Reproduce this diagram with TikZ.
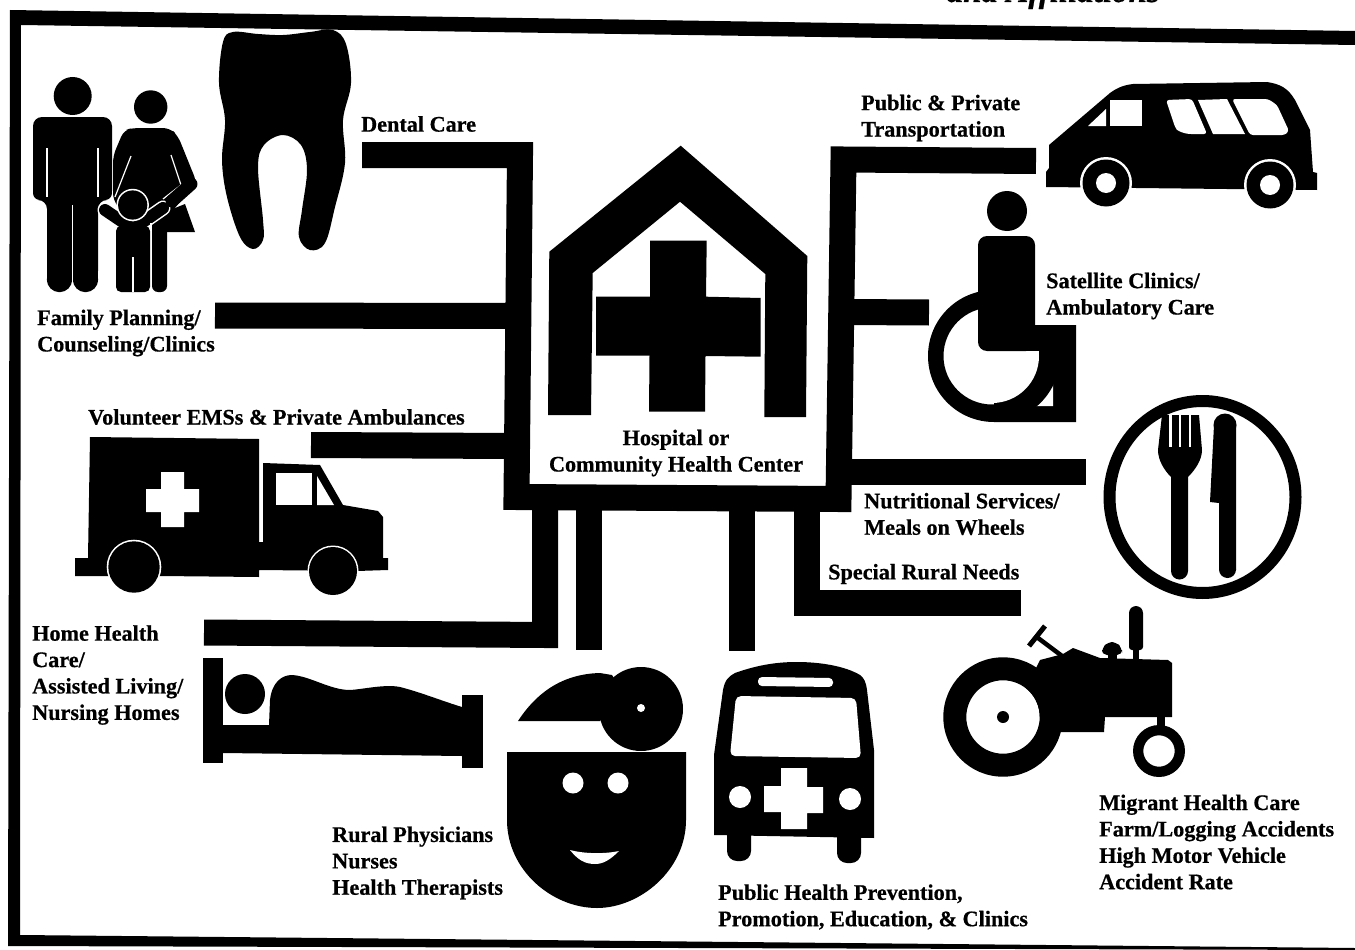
\documentclass[tikz,border=0pt]{standalone}
\usepackage{fontspec}
\setmainfont{Liberation Serif}[BoldFeatures={FakeBold=0.6},BoldItalicFeatures={FakeBold=0.6}]
\tikzset{
  lab/.style={font=\bfseries\fontsize{22.2}{26.4}\selectfont,align=left,inner sep=0pt,anchor=west,text=black},
  labc/.style={font=\bfseries\fontsize{22.2}{26.4}\selectfont,align=center,inner sep=0pt,text=black},
  bar/.style={draw=black,line width=26pt,miter limit=10},
  ink/.style={fill=black,draw=none},
  paper/.style={fill=white,draw=none},
  slit/.style={draw=white,line width=1.2pt}
}
\begin{document}
\begin{tikzpicture}[x=1pt,y=1pt,yscale=-1]
\useasboundingbox (0,0) rectangle (1355,950);
\fill[white] (0,0) rectangle (1355,950);
% cut caption
\node[font=\bfseries\itshape\fontsize{33}{33}\selectfont,anchor=base east,inner sep=0pt] (caption) at (1160,2) {and Affiliations};
% frame
\fill[ink] (10,10) -- (1355,31) -- (1355,45) -- (21,25) -- (20,935) -- (1355,948) -- (1355,950) -- (8,946) -- cycle;
% connector ends
\coordinate (dentalEnd) at (362,155);
\coordinate (transEnd) at (1036,161);
\coordinate (familyEnd) at (215,315.5);
\coordinate (familyHub) at (515,316);
\coordinate (emsEnd) at (311,445);
\coordinate (emsHub) at (515,446);
\coordinate (homeEnd) at (204,632.5);
\coordinate (homeCorner) at (545,635);
\coordinate (homeHub) at (545,497);
\coordinate (rnHub) at (588.5,497);
\coordinate (rnEnd) at (588.5,650);
\coordinate (phHub) at (741.5,497);
\coordinate (phEnd) at (741.5,651);
\coordinate (ruralHub) at (806.5,497);
\coordinate (ruralCorner) at (806.5,603);
\coordinate (ruralEnd) at (1021,603);
\coordinate (satHub) at (845,312);
\coordinate (satEnd) at (929,312.5);
\coordinate (nutHub) at (840,472);
\coordinate (nutEnd) at (1086,472);
% connectors
\draw[bar] (dentalEnd) -- (520,155) -- (516.5,497) -- (838.5,499) -- (843.5,159.5) -- (transEnd);
\draw[bar] (familyEnd) -- (familyHub);
\draw[bar] (emsEnd) -- (emsHub);
\draw[bar] (homeEnd) -- (homeCorner) -- (homeHub);
\draw[bar] (rnHub) -- (rnEnd);
\draw[bar] (phHub) -- (phEnd);
\draw[bar] (ruralHub) -- (ruralCorner) -- (ruralEnd);
\draw[bar] (satHub) -- (satEnd);
\draw[bar] (nutHub) -- (nutEnd);
% hospital
\fill[ink] (680.7,145.7) -- (549.3,251.7) -- (548,415) -- (591,415) -- (592.7,273) -- (680,201.7) -- (765.3,274) -- (764.3,417) -- (806,417) -- (807.3,256) -- cycle;
\fill[ink] (650,240.7) -- (706.7,240.7) -- (706,296.7) -- (760.7,298) -- (760.7,356.7) -- (705.5,356) -- (705,411.7) -- (649,411.7) -- (649.5,355.5) -- (596,355.5) -- (596,296.7) -- (650,296.7) -- cycle;
\node[labc] (hospital) at (676,453) {Hospital or\hspace{12pt}\\Community Health Center};
% tooth
\fill[ink] plot[smooth cycle,tension=.6] coordinates {(233,32) (258,34) (283,35) (310,32) (333,30) (346,44) (351,83) (343,120) (345,163) (335,207) (325,243) (310,250) (299,237) (302,210) (307,170) (301,145) (283,135) (264,145) (258,167) (263,220) (263,240) (253,249) (240,237) (227,197) (222,160) (225,120) (219,83) (223,42)};
\node[lab] (dental) at (361,124) {Dental Care};
% family
\fill[ink] (72.7,96) circle (19);
\fill[ink,rounded corners=9] (33,200) -- (33,117) -- (112,117) -- (112,200) -- (98,200) -- (98,280) -- (47,280) -- (47,200) -- cycle;
\fill[ink] (47,190) rectangle (98,282);
\fill[ink] (40,193) circle (7) (105,193) circle (7) (59.5,279.5) circle (12.7) (85.5,279.5) circle (12.7);
\draw[slit] (47,148) -- (47,197);
\draw[slit] (98,148) -- (98,197);
\draw[slit] (72.5,205) -- (72.5,292);
\fill[ink] (150.7,107) circle (16.7);
\fill[ink,rounded corners=7] (113,156) -- (124,130) -- (133,128) -- (170,128) -- (178,136) -- (197,183) -- (178,204) -- (164,222) -- (130,222) -- (113,200) -- cycle;
\fill[ink] (150,218) -- (185,204) -- (195,232) -- (152,232) -- cycle;
\fill[ink,rounded corners=6] (152,215) -- (167,215) -- (167,292) -- (152,292) -- cycle;
\draw[slit] (131,156) -- (115,197);
\draw[slit] (171,155) -- (181,185) -- (163,199);
% child
\draw[white,line width=15pt,line cap=round] (105,210) -- (133,229) -- (163,208);
\draw[black,line width=12pt,line cap=round] (105,210) -- (133,229) -- (163,208);
\draw[white,line width=1.5pt] (151,223) -- (151,292);
\fill[ink,rounded corners=5] (116,226) -- (150,226) -- (150,292) -- (116,292) -- cycle;
\draw[slit] (133,257) -- (133,292);
\fill[white] (132.7,205) circle (16.2);
\fill[ink] (132.7,205) circle (14.6);
\draw[black,line width=13pt,line cap=round] (191,184) -- (172,201);
\node[lab] (family) at (37,333) {Family Planning/\\Counseling/Clinics};
% van
\fill[ink] (1046,187) -- (1046,172) -- (1049,168) -- (1049,145) -- (1110,93) .. controls (1118,87) and (1125,85) .. (1133,84) -- (1267,82) .. controls (1280,84) and (1288,88) .. (1295,100) -- (1310,130) -- (1313,172) -- (1317,173) -- (1317,190) -- cycle;
\fill[white] (1106,183) circle (26) (1270,185) circle (26);
\fill[ink] (1106,183) circle (23.5) (1270,185) circle (23.5);
\fill[white] (1106,183) circle (10) (1270,185) circle (10);
\fill[paper] (1088,126) -- (1106,109) -- (1106,126) -- cycle;
\fill[paper] (1110,100) -- (1142,100) -- (1142,126) -- (1110,126) -- cycle;
\fill[paper,rounded corners=3] (1166,100) -- (1192,99) -- (1207,134) -- (1188,134) .. controls (1180,132) and (1177,130) .. (1175,127) -- cycle;
\fill[paper] (1198,100) -- (1227,99) -- (1245,134) -- (1213,134) -- cycle;
\fill[paper,rounded corners=3] (1232,99) -- (1268,99) -- (1277,105) -- (1289,131) -- (1285,135) -- (1250,135) -- cycle;
\node[lab] (transport) at (861,118) {Public \& Private\\Transportation};
% wheelchair
\fill[ink] (1007,211) circle (20);
\fill[ink] (1035,325) -- (1076,325) -- (1076,422) -- (994,422) -- (994,340) -- cycle;
\fill[paper] (1053,373) -- (1053,406) -- (1033,406) -- cycle;
\begin{scope}
\clip (915,280) -- (978,280) -- (978,351) -- (1085,351) -- (1085,430) -- (915,430) -- cycle;
\fill[ink,even odd rule] (994,356) circle (66) (992,356) circle (48.5);
\fill[paper] (992,356) circle (47);
\end{scope}
\fill[ink,rounded corners=9] (978,351) -- (978,236) -- (1035,236) -- (1035,351) -- cycle;
\fill[ink] (1015,340) rectangle (1039,351);
\node[lab] (satellite) at (1046,296) {Satellite Clinics/\\Ambulatory Care};
% fork and knife
\fill[ink,even odd rule] (1202.5,497) ellipse (99 and 102) (1202.5,497) ellipse (87 and 90);
\fill[ink] (1162,415) -- (1199,415) -- (1202,450) .. controls (1202,460) and (1195,470) .. (1188,477) -- (1188,571) -- (1171,571) -- (1171,477) .. controls (1164,470) and (1158,460) .. (1158,450) -- cycle;
\fill[ink] (1179.5,571) circle (8.5);
\foreach \sx in {1170.5,1180,1190}{\draw[white,line width=2.2pt] (\sx,414) -- (\sx,447);}
\fill[ink] (1225,425) circle (11.5) (1227.5,569.5) circle (8.5);
\fill[ink] (1214,425) -- (1236,425) -- (1236,570) -- (1219,570) -- (1219,503) -- (1210,502) -- cycle;
\node[lab] (nutrition) at (864,514) {Nutritional Services/\\Meals on Wheels};
\node[lab] (ruralneeds) at (828,574) {Special Rural Needs};
% tractor
\fill[ink] (1040,660) -- (1063,654) -- (1073,648) -- (1100,658) -- (1168,660) -- (1172,663) -- (1172,717) -- (1105,717) -- (1104,732) -- (1058,732) -- (1020,700) -- cycle;
\draw[black,line width=4.5pt] (1038,638) -- (1062,656);
\draw[black,line width=5pt] (1029,646) -- (1045,626);
\fill[ink] (1108,660) rectangle (1117,650);
\fill[ink,rounded corners=5] (1102,655) -- (1102,648) -- (1108,642) -- (1116,642) -- (1122,648) -- (1122,655) -- cycle;
\fill[ink] (1133,660) rectangle (1139,645);
\fill[ink,rounded corners=3] (1129,650) -- (1129,610) -- (1133,606) -- (1139,606) -- (1143,610) -- (1143,650) -- cycle;
\fill[ink] (1157,715) rectangle (1165,730);
\fill[white] (1003,717) circle (36.7);
\fill[ink,even odd rule] (1003,717) circle (59.7) (1003,717) circle (36.7);
\fill[ink] (1003,717) circle (6);
\fill[ink,even odd rule] (1159,751) circle (26) (1159,751) circle (15.7);
\node[lab] (migrant) at (1099,842) {Migrant Health Care\\Farm/Logging Accidents\\High Motor Vehicle\\Accident Rate};
% ambulance
\fill[ink] (90,437) -- (259,439) -- (259,542) -- (263,542) -- (263,463) -- (320,465) -- (343,505) -- (378,511) -- (383,517) -- (383,558) -- (388,558) -- (388,570) -- (357,571) -- (259,570) -- (259,577) -- (160,576) -- (75,576) -- (75,558) -- (88,558) -- cycle;
\draw[white,line width=3pt] (261,463) -- (261,541);
\fill[white] (134,567) circle (27.3) (333,571) circle (25.5);
\fill[ink] (134,567) circle (25.7) (333,571) circle (24);
\fill[paper] (276,473) rectangle (312,505);
\fill[paper] (317,476) -- (334,505) -- (317,505) -- cycle;
\fill[paper] (146,489) -- (161,489) -- (161,472) -- (184,472) -- (184,489) -- (199,489) -- (199,512) -- (184,512) -- (184,527) -- (161,527) -- (161,512) -- (146,512) -- cycle;
\node[lab] (ems) at (88,417) {Volunteer EMSs \& Private Ambulances};
% bed
\fill[ink] (203,658) -- (223,658) -- (223,763) -- (203,763) -- cycle;
\fill[ink] (245,694) circle (20);
\fill[ink] (223,725) -- (269,725) -- (270,700) .. controls (272,682) and (282,675) .. (292,675) .. controls (310,676) and (330,690) .. (350,690) .. controls (365,689) and (385,684) .. (400,687) .. controls (420,692) and (445,702) .. (462,707) -- (462,756) -- (223,753) -- cycle;
\fill[ink] (462,695) rectangle (483,768);
\node[lab] (home) at (32,675) {Home Health\\Care/\\Assisted Living/\\Nursing Homes};
% doctor
\fill[ink] (641,709) circle (42);
\fill[white] (641,708) circle (4);
\fill[ink] (518,721) .. controls (535,695) and (560,674) .. (600,673) -- (612,675) -- (625,695) -- (600,721) -- cycle;
\fill[ink] (507,752) -- (686,752) -- (686,820) .. controls (686,870) and (640,908) .. (597,908) .. controls (552,908) and (507,870) .. (507,820) -- cycle;
\fill[white] (573,783) circle (10.5) (618,783) circle (10.5);
\fill[white] (570,850) .. controls (585,854) and (605,854) .. (619,851) .. controls (610,860) and (603,864) .. (595,864) .. controls (585,864) and (578,860) .. (570,850) -- cycle;
\node[lab] (physicians) at (332,863) {Rural Physicians\\Nurses\\Health Therapists};
% bus
\fill[ink] (714,835) -- (714,755) -- (723,690) .. controls (725,680) and (728,677) .. (735,673) .. controls (760,664) and (780,662) .. (797,662) .. controls (820,662) and (845,666) .. (860,675) .. controls (864,678) and (866,682) .. (867,690) -- (874,750) -- (874,838) -- cycle;
\fill[ink,rounded corners=10] (727,825) -- (751,825) -- (751,861) -- (727,861) -- cycle;
\fill[ink,rounded corners=10] (837,825) -- (861,825) -- (861,863) -- (837,863) -- cycle;
\fill[paper,rounded corners=4] (758,677) -- (833,678) -- (833,687) -- (758,686) -- cycle;
\fill[paper,rounded corners=5] (736,696) -- (856,698) -- (861,758) -- (730,756) -- cycle;
\fill[white] (740,797) circle (11) (850,799) circle (11);
\fill[paper] (764,786) -- (781,786) -- (781,768) -- (807,768) -- (807,787) -- (823,787) -- (823,813) -- (807,813) -- (807,829) -- (781,829) -- (781,812) -- (764,812) -- cycle;
\node[lab] (publichealth) at (718,907) {Public Health Prevention,\\Promotion, Education, \& Clinics};
\end{tikzpicture}
\end{document}
